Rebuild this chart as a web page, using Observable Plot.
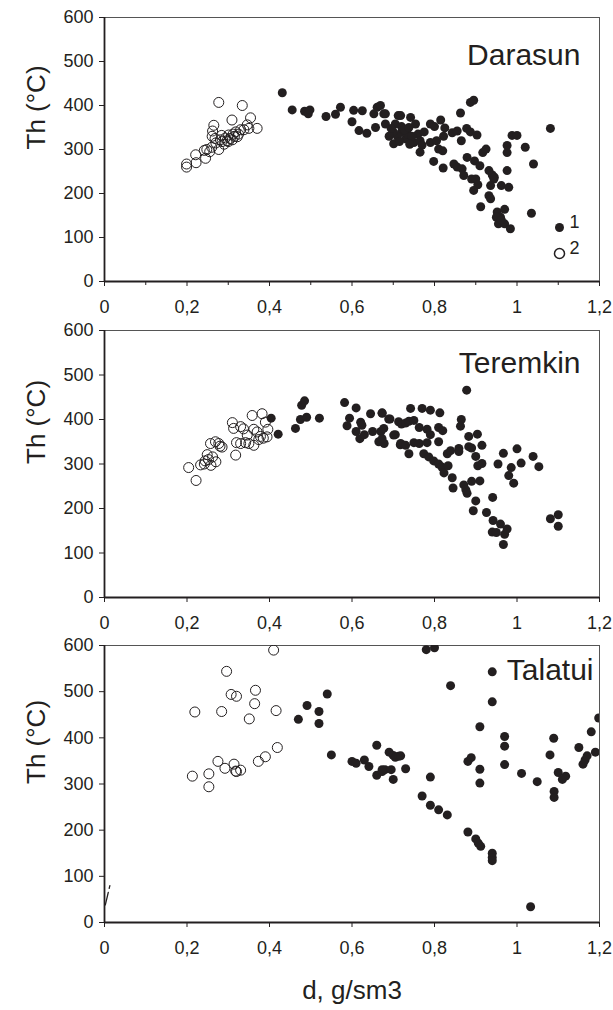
<!DOCTYPE html>
<html><head><meta charset="utf-8">
<script src="https://cdn.jsdelivr.net/npm/d3@7"></script>
<script src="https://cdn.jsdelivr.net/npm/@observablehq/plot@0.6"></script>
<style>
body{margin:0;background:#fff;}
#chart{width:613px;height:1010px;position:relative;overflow:hidden;background:#fff;}
#chart svg{display:block;}
</style></head><body><div id="chart"></div>
<script>
// ---- data: [density d (g/sm3), Th (°C)] ----
const darasunFilled = [[0.431,429],[0.455,390],[0.485,387],[0.494,381],[0.498,390],[0.537,375],[0.56,380],[0.572,396],[0.604,389],[0.60,363],[0.625,388],[0.617,343],[0.636,337],[0.661,396],[0.653,381],[0.677,381],[0.657,350],[0.681,358],[0.701,313],[0.705,358],[0.712,377],[0.669,400],[0.681,381],[0.718,377],[0.742,373],[0.754,358],[0.73,324],[0.75,316],[0.72,340],[0.735,335],[0.71,330],[0.76,335],[0.765,320],[0.765,294],[0.79,358],[0.815,367],[0.79,316],[0.81,301],[0.82,297],[0.798,273],[0.821,258],[0.825,349],[0.822,330],[0.843,338],[0.855,342],[0.863,383],[0.865,320],[0.878,348],[0.887,340],[0.903,333],[0.887,407],[0.895,412],[0.847,267],[0.855,260],[0.867,256],[0.871,241],[0.879,282],[0.89,233],[0.9,233],[0.895,207],[0.905,220],[0.897,274],[0.91,263],[0.917,293],[0.925,301],[0.932,252],[0.94,242],[0.944,233],[0.936,218],[0.932,195],[0.936,188],[0.912,170],[0.945,237],[0.962,218],[0.98,214],[0.976,252],[0.976,293],[0.976,309],[0.988,332],[1.0,332],[1.02,305],[1.04,267],[1.081,348],[1.035,155],[0.952,158],[0.96,146],[0.97,164],[0.95,146],[0.955,131],[0.97,131],[0.984,120],[0.962,140],[0.72,352],[0.727,345],[0.738,350],[0.745,330],[0.70,340],[0.715,318],[0.74,312],[0.69,330],[0.695,348],[0.775,340],[0.8,352],[0.805,320],[0.77,310]];
const darasunOpen = [[0.199,267],[0.199,260],[0.221,288],[0.222,270],[0.245,280],[0.242,298],[0.255,295],[0.265,355],[0.262,342],[0.261,330],[0.277,407],[0.277,300],[0.27,315],[0.281,322],[0.293,326],[0.301,333],[0.309,367],[0.322,329],[0.318,340],[0.334,400],[0.33,345],[0.346,356],[0.354,372],[0.35,348],[0.37,348],[0.285,318],[0.29,312],[0.297,320],[0.305,325],[0.312,335],[0.325,335],[0.338,345],[0.3,318],[0.315,330],[0.26,305],[0.248,300],[0.268,325],[0.284,332],[0.31,322]];
const teremkinFilled = [[0.404,403],[0.421,367],[0.463,380],[0.475,400],[0.478,432],[0.485,442],[0.49,405],[0.521,403],[0.582,438],[0.588,386],[0.594,403],[0.61,426],[0.61,373],[0.619,357],[0.621,394],[0.624,387],[0.63,366],[0.645,413],[0.65,373],[0.673,414],[0.67,373],[0.665,350],[0.678,346],[0.689,401],[0.705,366],[0.713,395],[0.717,343],[0.878,466],[0.673,415],[0.677,380],[0.673,357],[0.692,401],[0.701,365],[0.72,390],[0.73,392],[0.738,396],[0.742,425],[0.75,398],[0.77,425],[0.79,421],[0.813,415],[0.718,346],[0.73,342],[0.75,348],[0.763,346],[0.738,323],[0.763,382],[0.782,378],[0.79,366],[0.782,348],[0.81,350],[0.81,382],[0.82,375],[0.774,323],[0.786,316],[0.798,307],[0.81,300],[0.818,293],[0.823,280],[0.833,296],[0.831,323],[0.839,330],[0.843,269],[0.845,246],[0.859,335],[0.859,328],[0.865,400],[0.863,385],[0.871,253],[0.879,234],[0.876,242],[0.883,339],[0.883,362],[0.904,367],[0.89,336],[0.9,317],[0.905,296],[0.915,301],[0.915,342],[0.89,261],[0.91,262],[0.9,217],[0.894,195],[0.926,191],[0.941,225],[0.942,173],[0.94,147],[0.96,165],[0.97,142],[0.967,119],[0.976,154],[0.95,146],[0.954,300],[0.967,324],[0.986,292],[0.98,274],[0.992,257],[1.0,334],[1.01,302],[1.039,317],[1.053,294],[1.081,177],[1.1,186],[1.1,160]];
const teremkinOpen = [[0.204,292],[0.222,263],[0.233,298],[0.244,307],[0.249,321],[0.242,300],[0.258,297],[0.27,305],[0.262,316],[0.257,346],[0.269,350],[0.277,346],[0.285,338],[0.318,320],[0.31,393],[0.313,380],[0.33,384],[0.337,379],[0.33,346],[0.342,348],[0.35,346],[0.362,342],[0.346,365],[0.358,409],[0.382,413],[0.362,378],[0.37,372],[0.378,362],[0.385,358],[0.394,361],[0.396,378],[0.39,394],[0.374,355],[0.32,348],[0.252,310],[0.28,340]];
const talatuiFilled = [[0.47,440],[0.491,470],[0.52,457],[0.52,431],[0.54,495],[0.55,363],[0.6,349],[0.61,345],[0.63,352],[0.641,338],[0.66,384],[0.66,319],[0.673,331],[0.68,331],[0.69,369],[0.695,331],[0.70,362],[0.705,358],[0.713,360],[0.70,310],[0.673,327],[0.718,361],[0.73,333],[0.78,591],[0.80,595],[0.839,513],[0.94,543],[0.94,478],[0.91,424],[0.97,403],[0.97,382],[0.97,342],[0.881,349],[0.889,357],[0.91,332],[0.91,302],[0.79,315],[0.77,274],[0.79,254],[0.81,244],[0.831,233],[0.881,196],[0.9,181],[0.906,172],[0.912,165],[0.94,150],[0.94,141],[0.94,134],[1.033,34],[1.011,323],[1.049,305],[1.089,399],[1.08,363],[1.1,325],[1.11,310],[1.118,317],[1.09,284],[1.09,271],[1.15,379],[1.18,413],[1.16,343],[1.165,352],[1.17,361],[1.19,369],[1.198,443]];
const talatuiOpen = [[0.41,590],[0.296,544],[0.307,494],[0.32,490],[0.366,503],[0.364,474],[0.219,456],[0.284,457],[0.351,441],[0.416,459],[0.419,379],[0.39,359],[0.373,349],[0.275,349],[0.292,334],[0.314,343],[0.318,328],[0.33,330],[0.32,327],[0.213,317],[0.253,322],[0.253,294]];
const talatuiStroke = [[0.002,38],[0.013,80]];

const panelNames = ["Darasun", "Teremkin", "Talatui"];
const legendLabels = ["1", "2"];
const yTicks = [0, 100, 200, 300, 400, 500, 600];
const xTicks = [0, 0.2, 0.4, 0.6, 0.8, 1, 1.2];
const xTickLabels = ["0", "0,2", "0,4", "0,6", "0,8", "1", "1,2"];
const xMinorTicks = [0.1, 0.3, 0.5, 0.7, 0.9, 1.1];
const yTitle = "Th (°C)";
const xTitle = "d, g/sm3";

// ---- drawing ----
const ink = "#231f20";
const font = "Liberation Sans, Arial, Helvetica, sans-serif";
const fmtX = d => xTickLabels[xTicks.findIndex(v => Math.abs(v - d) < 1e-9)];

function panel(o) {
  const marks = [
    Plot.frame({stroke: "#555", strokeWidth: 1}),
    Plot.ruleX([0], {stroke: ink, strokeWidth: 1.8}),
    Plot.ruleY([0], {stroke: ink, strokeWidth: 1.8}),
    Plot.axisY({ticks: yTicks, tickSize: 5, tickPadding: 6, fontSize: 18, tickFormat: d => String(d), stroke: ink, fill: ink, label: null}),
    Plot.axisX({ticks: xTicks, tickSize: 5, tickPadding: 14, fontSize: 18, tickFormat: fmtX, stroke: ink, fill: ink, label: null}),
  ];
  if (o.minor) marks.push(Plot.axisX({ticks: xMinorTicks, tickSize: 4, tickFormat: () => "", stroke: ink, label: null}));
  if (o.stroke) marks.push(Plot.line(o.stroke, {x: d => d[0], y: d => d[1], stroke: ink, strokeWidth: 1.3, strokeDasharray: "13,4,6"}));
  marks.push(
    Plot.dot(o.open, {x: d => d[0], y: d => d[1], r: 5, stroke: ink, strokeWidth: 1, fill: "none", clip: true}),
    Plot.dot(o.filled, {x: d => d[0], y: d => d[1], r: 4.5, fill: ink, stroke: "none", clip: true}),
    Plot.text([o.name], {frameAnchor: "top-right", dx: o.titleDx, dy: o.titleDy, textAnchor: "end", lineAnchor: "middle", fontSize: 30, fill: ink}),
    Plot.text([yTitle], {frameAnchor: "left", dx: -68, rotate: -90, fontSize: 26, fill: ink})
  );
  if (o.legend) {
    marks.push(
      Plot.dot([legendLabels[0]], {frameAnchor: "bottom-right", dx: -40, dy: -54, r: 4.5, fill: ink}),
      Plot.dot([legendLabels[1]], {frameAnchor: "bottom-right", dx: -40, dy: -28, r: 5, stroke: ink, fill: "none"}),
      Plot.text([legendLabels[0]], {frameAnchor: "bottom-right", dx: -30, dy: -54, textAnchor: "start", fontSize: 18, fill: ink}),
      Plot.text([legendLabels[1]], {frameAnchor: "bottom-right", dx: -30, dy: -28, textAnchor: "start", fontSize: 18, fill: ink})
    );
  }
  if (o.xTitle) marks.push(Plot.text([xTitle], {frameAnchor: "bottom", dy: 76, fontSize: 26, fill: ink}));
  return Plot.plot({
    width: 613, height: o.height,
    marginTop: o.mt, marginBottom: o.mb, marginLeft: 104, marginRight: 14,
    style: {fontFamily: font, background: "#fff", color: ink},
    x: {domain: [0, 1.2]},
    y: {domain: [0, 600]},
    marks
  });
}

const root = document.getElementById("chart");
root.append(panel({name: panelNames[0], filled: darasunFilled, open: darasunOpen, height: 318, mt: 17, mb: 37, minor: true, legend: true, titleDx: -19, titleDy: 38}));
root.append(panel({name: panelNames[1], filled: teremkinFilled, open: teremkinOpen, height: 316, mt: 12, mb: 37, titleDx: -19, titleDy: 33}));
root.append(panel({name: panelNames[2], filled: talatuiFilled, open: talatuiOpen, height: 376, mt: 11, mb: 88, xTitle: true, stroke: talatuiStroke, titleDx: -6, titleDy: 25}));
</script></body></html>
